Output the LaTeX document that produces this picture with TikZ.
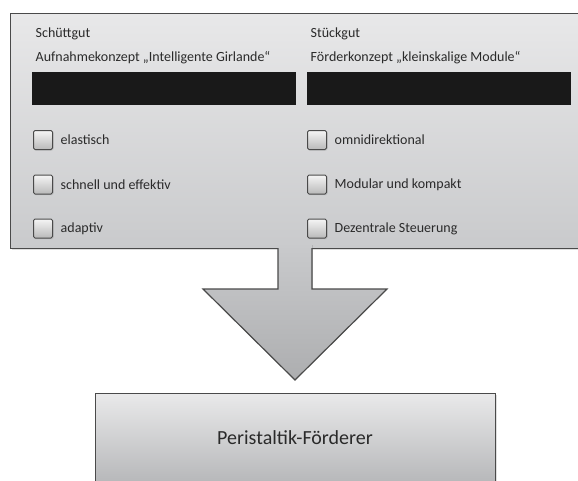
\documentclass[tikz,border=0pt]{standalone}
\usepackage{fontspec}
\setmainfont{Carlito}
\usetikzlibrary{positioning,shadows}
\definecolor{rahmen}{HTML}{4A4A4A}
\definecolor{hell}{HTML}{E8E8E9}
\definecolor{mittel}{HTML}{C9CACC}
\definecolor{dunkel}{HTML}{B6B7B9}
\definecolor{schrift}{HTML}{2A2A2A}
\tikzset{
	rand/.style={draw=rahmen,line width=1.2pt},
	schatten/.style={drop shadow={opacity=0.25,shadow xshift=1pt,shadow yshift=-1pt}},
	panel/.style={rand,schatten,top color=hell,bottom color=mittel,anchor=north west,
		inner sep=0pt,minimum width=600pt,minimum height=235pt},
	balken/.style={fill=black!90,anchor=north west,inner sep=0pt,minimum width=264pt,minimum height=33pt},
	kaestchen/.style={draw=rahmen,line width=1pt,rounded corners=1.5pt,top color=white!92!gray,
		bottom color=gray!55,schatten,minimum size=19pt,inner sep=0pt},
	beschriftung/.style={text=schrift,font=\fontsize{14}{16}\selectfont,inner sep=0pt},
	kopf/.style={beschriftung,anchor=base west},
	ziel/.style={rand,schatten,top color=hell!95!white,bottom color=dunkel,anchor=north west,
		inner sep=0pt,minimum width=400pt,minimum height=90pt}
}
\begin{document}
\begin{tikzpicture}[x=1pt,y=-1pt]
\def\auswahl#1#2#3{
	\node[kaestchen] (#1) at #2 {};
	\node[beschriftung,right=7.5pt of #1] (#1t) {#3};
}
\useasboundingbox (0,0) rectangle (578,480);
\clip (0,0) rectangle (578,480);
% Eingangsfeld
\node[panel] (panel) at (10,13) {};
\node[kopf] (schuett) at (35.5,37) {Schüttgut};
\node[kopf] (aufnahme) at (35.5,61) {Aufnahmekonzept „Intelligente Girlande“};
\node[kopf] (stueck) at (310.5,37) {Stückgut};
\node[kopf] (foerder) at (310.5,61) {Förderkonzept „kleinskalige Module“};
\node[balken] (links) at (32,72) {};
\node[balken] (rechts) at (307,72) {};
\auswahl{elastisch}{(43,140)}{elastisch}
\auswahl{schnell}{(43,184.5)}{schnell und effektiv}
\auswahl{adaptiv}{(43,228.5)}{adaptiv}
\auswahl{omni}{(317,140)}{omnidirektional}
\auswahl{modular}{(317,184.5)}{Modular und kompakt}
\auswahl{dezentral}{(317,228.5)}{Dezentrale Steuerung}
% Pfeil
\fill[top color=mittel,bottom color=dunkel!95!black] (278,245) -- (278,289) -- (203,289) -- (295,380)
	-- (387,289) -- (312,289) -- (312,245) -- cycle;
\draw[rand,line join=miter] (278,248) -- (278,289) -- (203,289) -- (295,380)
	-- (387,289) -- (312,289) -- (312,248);
% Ergebnis
\node[ziel] (peristaltik) at (95,393) {};
\node[beschriftung,font=\fontsize{20}{24}\selectfont] (peritext) at (295,438) {Peristaltik-Förderer};
\end{tikzpicture}
\end{document}
